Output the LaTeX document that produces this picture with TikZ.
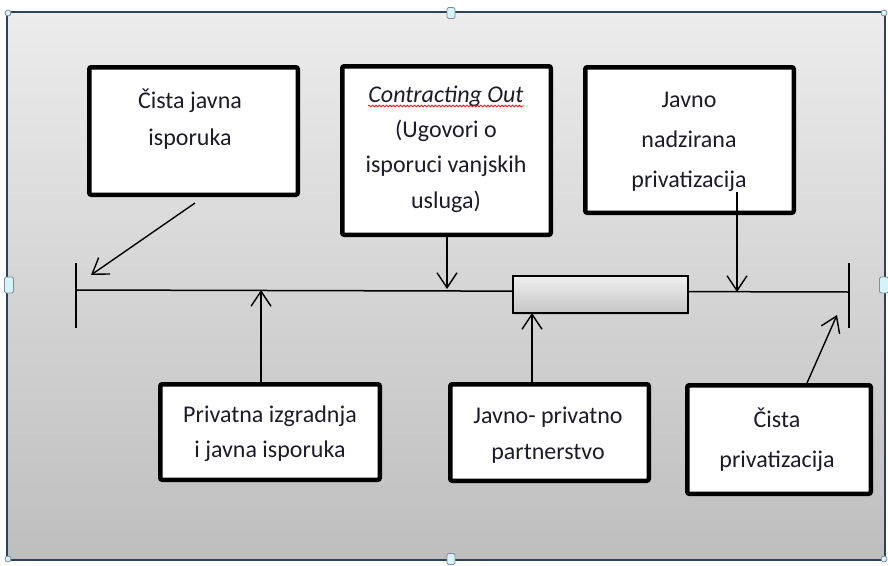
\documentclass[tikz,border=0pt]{standalone}
\usepackage{fontspec}
\setmainfont{Carlito}
\usetikzlibrary{arrows.meta,decorations.pathmorphing,shadows}
\definecolor{frameblue}{RGB}{45,65,90}
\definecolor{handlefill}{RGB}{215,243,250}
\definecolor{txt}{RGB}{28,28,40}
\newcommand\fsz[2]{\fontsize{#1}{#2}\selectfont}
\tikzset{
  box/.style={draw=black, line width=4.5pt, fill=white, rounded corners=2pt, inner sep=0pt},
  lbl/.style={text=txt, align=center, inner sep=0pt, anchor=base},
  conn/.style={draw=black, line width=1.4pt, -{Straight Barb[length=15pt,width=20pt,line width=1.4pt]}},
  tl/.style={draw=black, line width=1.5pt},
  handle/.style={draw=frameblue!60, fill=handlefill, line width=0.8pt, rounded corners=1.5pt, inner sep=0pt},
  barbox/.style={draw=black, line width=1.3pt, top color=gray!12, bottom color=gray!45, drop shadow={opacity=0.25, shadow xshift=1pt, shadow yshift=-1.5pt}, inner sep=0pt}
}
\begin{document}
\begin{tikzpicture}[x=1pt, y=-1pt]
\useasboundingbox (0,0) rectangle (888,565);
\fill[white] (0,0) rectangle (888,565);
% background frame
\shade[top color={rgb,255:red,236;green,236;blue,236}, bottom color={rgb,255:red,190;green,190;blue,190}] (7,12) rectangle (885,560);
\draw[frameblue, line width=2pt] (7,12) rectangle (885,560);
% handles
\node[handle, minimum width=8pt, minimum height=11pt] (h1) at (451,13) {};
\node[handle, minimum width=8pt, minimum height=11pt] (h2) at (451,559) {};
\node[handle, minimum width=9pt, minimum height=16pt] (h3) at (9,285) {};
\node[handle, minimum width=9pt, minimum height=16pt] (h4) at (884,285) {};
\node[handle, circle, minimum size=6pt] (h5) at (8,13) {};
\node[handle, circle, minimum size=6pt] (h6) at (8,559) {};
\node[handle, circle, minimum size=6pt] (h7) at (884,13) {};
\node[handle, circle, minimum size=6pt] (h8) at (884,559) {};

% timeline
\coordinate (L) at (76,290);
\coordinate (R) at (849,292);
\coordinate (Lt) at (76,263);
\coordinate (Lb) at (76,328);
\coordinate (Rt) at (849,263);
\coordinate (Rb) at (849,328);
\draw[tl] (L) -- (R);
\draw[tl] (Lt) -- (Lb);
\draw[tl] (Rt) -- (Rb);
\node[barbox, minimum width=175pt, minimum height=37pt] (bar) at (600.5,294.5) {};

% boxes
\node[box, minimum width=208.5pt, minimum height=127.5pt] (b1) at (193.5,131) {};
\node[box, minimum width=208.5pt, minimum height=168.5pt] (b2) at (446.5,150.5) {};
\node[box, minimum width=208.5pt, minimum height=145.5pt] (b3) at (689.5,140) {};
\node[box, minimum width=219.5pt, minimum height=95.5pt] (b4) at (270,432) {};
\node[box, minimum width=198.5pt, minimum height=96.5pt] (b5) at (549.5,432.5) {};
\node[box, minimum width=183.5pt, minimum height=108.5pt] (b6) at (779,439.5) {};

% texts (anchored at the baseline of the last line)
\node[lbl, font=\fsz{24}{37}] (t1) at (190,145) {Čista javna\\isporuka};
\node[lbl, font=\fsz{24}{35.3}] (t2) at (446,208) {\textit{Contracting Out}\\(Ugovori o\\isporuci vanjskih\\usluga)};
\node[lbl, font=\fsz{24}{40}] (t3) at (689,187) {Javno\\nadzirana\\privatizacija};
\node[lbl, font=\fsz{24}{35}] (t4) at (270,457) {Privatna izgradnja\\i javna isporuka};
\node[lbl, font=\fsz{24}{36}] (t5) at (548,459) {Javno- privatno\\partnerstvo};
\node[lbl, font=\fsz{24}{40}] (t6) at (777,467) {Čista\\privatizacija};
\draw[red, line width=0.7pt, decorate, decoration={snake, amplitude=0.9pt, segment length=3.5pt}] (368,106) -- (524,106);

% connectors
\coordinate (s1) at (195,203);
\coordinate (e1) at (91,275);
\coordinate (e2) at (447,289);
\coordinate (s3) at (737,192);
\coordinate (e3) at (737,292);
\coordinate (e4) at (261,290);
\coordinate (e5) at (532,313);
\coordinate (s6) at (807,383);
\coordinate (e6) at (837,315);
\draw[conn] (s1) -- (e1);
\draw[conn] (b2.south -| e2) -- (e2);
\draw[conn] (s3) -- (e3);
\draw[conn] (b4.north -| e4) -- (e4);
\draw[conn] (b5.north -| e5) -- (e5);
\draw[conn] (s6) -- (e6);
\end{tikzpicture}
\end{document}
